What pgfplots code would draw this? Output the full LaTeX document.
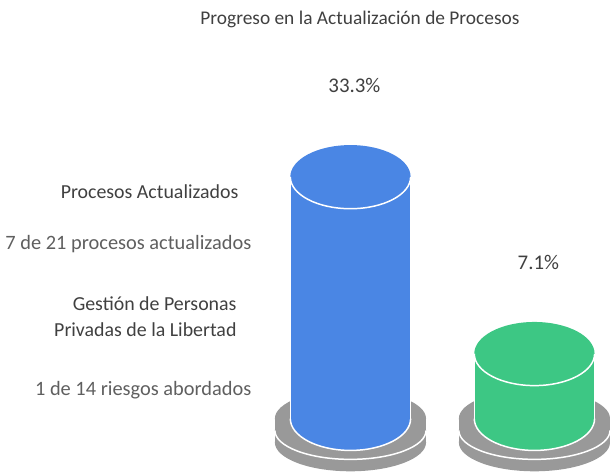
\documentclass[border=0pt]{standalone}
\usepackage{fontspec}
\setmainfont{Carlito}
\usepackage{pgfplots}
\pgfplotsset{compat=1.18}

\definecolor{cblue}{RGB}{74,134,228}
\definecolor{cgreen}{RGB}{61,199,132}
\definecolor{cbase}{RGB}{153,153,153}
\definecolor{chead}{RGB}{64,64,64}
\definecolor{cdesc}{RGB}{95,95,95}

% cylinder cap: filled ellipse with a white front edge
\pgfdeclareplotmark{cylcap}{%
  \pgfpathellipse{\pgfpointorigin}{\pgfqpoint{60.5bp}{0bp}}{\pgfqpoint{0bp}{32bp}}%
  \pgfusepathqfill
  \pgfsetstrokecolor{white}\pgfsetlinewidth{1.5bp}%
  \pgfpathmoveto{\pgfqpoint{-60.5bp}{0bp}}%
  \pgfpatharc{180}{360}{60.5bp and 32bp}%
  \pgfusepathqstroke}

% grey two-disc pedestal
\pgfdeclareplotmark{cylbase}{%
  \pgfsetfillcolor{cbase}%
  \pgfpathellipse{\pgfqpoint{0bp}{-24bp}}{\pgfqpoint{76bp}{0bp}}{\pgfqpoint{0bp}{29bp}}\pgfusepathqfill
  \pgfpathrectanglecorners{\pgfqpoint{-76bp}{-24bp}}{\pgfqpoint{76bp}{-12bp}}\pgfusepathqfill
  \pgfpathellipse{\pgfqpoint{0bp}{-12bp}}{\pgfqpoint{76bp}{0bp}}{\pgfqpoint{0bp}{29bp}}\pgfusepathqfill
  \pgfpathrectanglecorners{\pgfqpoint{-76bp}{-12bp}}{\pgfqpoint{76bp}{0bp}}\pgfusepathqfill
  \pgfpathellipse{\pgfpointorigin}{\pgfqpoint{76bp}{0bp}}{\pgfqpoint{0bp}{29bp}}\pgfusepathqfill
  \pgfsetstrokecolor{white}\pgfsetlinewidth{1.5bp}%
  \pgfpathmoveto{\pgfqpoint{-76bp}{-12bp}}%
  \pgfpatharc{180}{360}{76bp and 29bp}%
  \pgfusepathqstroke}

\begin{document}
\begin{tikzpicture}
\begin{axis}[
  scale only axis,
  width=610bp, height=477bp,
  xmin=-1.905, xmax=1.392,
  ymin=-10.75, ymax=59.5,
  hide axis, clip=false,
  set layers, mark layer=like plot,
  /pgf/number format/assume math mode=true,
  ]
  % pedestals
  \addplot[on layer=pre main, only marks, mark=cylbase] coordinates {(0,-2.5) (1,-2.5)};
  % bottom caps
  \addplot[on layer=main, only marks, mark=cylcap, mark options={fill=cblue, draw=none}] coordinates {(0,-2.5)};
  \addplot[on layer=main, only marks, mark=cylcap, mark options={fill=cgreen, draw=none}] coordinates {(1,-2.5)};
  % bodies
  \addplot[on layer=axis foreground, draw=white, line width=1bp, fill=cblue, mark=none]
    coordinates {(-0.327,-2.5) (-0.327,33.3) (0.327,33.3) (0.327,-2.5)};
  \addplot[on layer=axis foreground, draw=white, line width=1bp, fill=cgreen, mark=none]
    coordinates {(0.673,-2.5) (0.673,7.1) (1.327,7.1) (1.327,-2.5)};
  % top caps with value labels
  \addplot[on layer=axis foreground, only marks, mark=cylcap, mark options={fill=cblue, draw=none},
    point meta=y, nodes near coords={\pgfmathprintnumber[fixed,precision=1,fixed zerofill]{\pgfplotspointmeta}\%},
    every node near coord/.append style={anchor=center, xshift=4bp, yshift=92bp, text=chead, font=\fontsize{21bp}{24bp}\selectfont}]
    coordinates {(0,33.3)};
  \addplot[on layer=axis foreground, only marks, mark=cylcap, mark options={fill=cgreen, draw=none},
    point meta=y, nodes near coords={\pgfmathprintnumber[fixed,precision=1,fixed zerofill]{\pgfplotspointmeta}\%},
    every node near coord/.append style={anchor=center, xshift=4bp, yshift=92bp, text=chead, font=\fontsize{21bp}{24bp}\selectfont}]
    coordinates {(1,7.1)};

  % title and side texts
  \node[text=chead, font=\fontsize{19.5bp}{23bp}\selectfont] at (rel axis cs:0.5934,0.958) {Progreso en la Actualización de Procesos};
  \node[anchor=east, inner sep=0pt, text=chead, font=\fontsize{20bp}{23bp}\selectfont] at (rel axis cs:0.3934,0.5954) {Procesos Actualizados};
  \node[anchor=east, inner sep=0pt, text=cdesc, font=\fontsize{20.5bp}{23bp}\selectfont] at (rel axis cs:0.4148,0.4864) {7 de 21 procesos actualizados};
  \node[anchor=east, inner sep=0pt, align=right, text=chead, font=\fontsize{20bp}{27bp}\selectfont] at (rel axis cs:0.3902,0.3323) {Gestión de Personas\\Privadas de la Libertad};
  \node[anchor=east, inner sep=0pt, text=cdesc, font=\fontsize{20.5bp}{23bp}\selectfont] at (rel axis cs:0.4148,0.1782) {1 de 14 riesgos abordados};

  \path (rel axis cs:0,0) rectangle (rel axis cs:1,1);
\end{axis}
\end{tikzpicture}
\end{document}
